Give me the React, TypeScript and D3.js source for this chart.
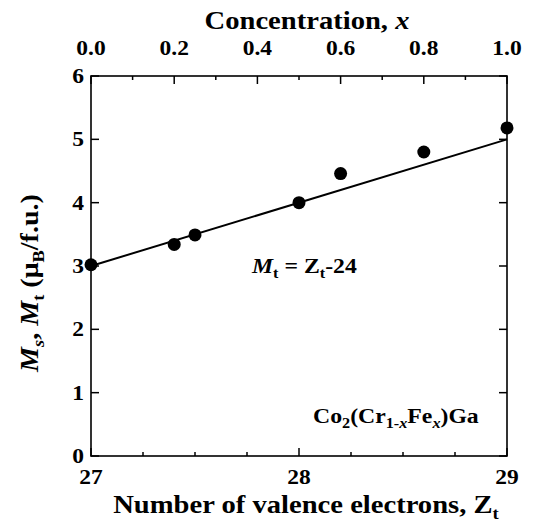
import React from "react";
import * as d3 from "d3";

const zt = [27, 27.4, 27.5, 28, 28.2, 28.6, 29];
const moment = [3.02, 3.34, 3.49, 4.0, 4.46, 4.8, 5.18];
const fitZ = [27, 29];
const bottomMajor = [27, 28, 29];
const bottomMinor = [27.25, 27.5, 27.75, 28.25, 28.5, 28.75];
const topMajor = [0, 0.2, 0.4, 0.6, 0.8, 1.0];
const topMinor = [0.1, 0.3, 0.5, 0.7, 0.9];
const yTicks = [0, 1, 2, 3, 4, 5, 6];

const W = 537, H = 523;
const L = 91, R = 507, T = 76, B = 456;
const ts: React.CSSProperties = { fontFamily: "Liberation Serif", fontWeight: "bold" };

function T2({ x, y, sx = 1.12, anchor = "start", size, children, rotate = 0 }: any) {
  return (
    <text
      className="ser"
      transform={`translate(${x},${y}) rotate(${rotate}) scale(${sx},1)`}
      fontSize={size}
      textAnchor={anchor}
      style={ts}
    >
      {children}
    </text>
  );
}

export default function App() {
  const x = d3.scaleLinear().domain([27, 29]).range([L, R]);
  const xc = d3.scaleLinear().domain([0, 1]).range([L, R]);
  const y = d3.scaleLinear().domain([0, 6]).range([B, T]);
  const line = d3.line<number>().x((d) => x(d)).y((d) => y(d - 24));
  const maj = 8, mn = 4;
  return (
    <div style={{ position: "absolute", left: 0, top: 0, width: W, height: H }}>
      <svg width={W} height={H} style={{ position: "absolute", left: 0, top: 0 }}>
        <style>{`.ser, .ser tspan { font-family: "Liberation Serif"; font-weight: bold; }`}</style>
        <rect x={0} y={0} width={W} height={H} fill="white" />
        <rect x={L} y={T} width={R - L} height={B - T} fill="none" stroke="black" strokeWidth={1.6} />
        {bottomMajor.map((v) => (
          <line key={"bM" + v} x1={x(v)} x2={x(v)} y1={B} y2={B - maj} stroke="black" strokeWidth={1.5} />
        ))}
        {bottomMinor.map((v) => (
          <line key={"bm" + v} x1={x(v)} x2={x(v)} y1={B} y2={B - mn} stroke="black" strokeWidth={1.5} />
        ))}
        {topMajor.map((v) => (
          <line key={"tM" + v} x1={xc(v)} x2={xc(v)} y1={T} y2={T + maj} stroke="black" strokeWidth={1.5} />
        ))}
        {topMinor.map((v) => (
          <line key={"tm" + v} x1={xc(v)} x2={xc(v)} y1={T} y2={T + mn} stroke="black" strokeWidth={1.5} />
        ))}
        {yTicks.map((v) => (
          <g key={"y" + v}>
            <line x1={L} x2={L + maj} y1={y(v)} y2={y(v)} stroke="black" strokeWidth={1.5} />
            <line x1={R} x2={R - maj} y1={y(v)} y2={y(v)} stroke="black" strokeWidth={1.5} />
            <T2 x={L - 7} y={y(v) + 7} size={21} anchor="end">{String(v)}</T2>
          </g>
        ))}
        {bottomMajor.map((v) => (
          <T2 key={"bl" + v} x={x(v)} y={484} size={21} anchor="middle">{String(v)}</T2>
        ))}
        {topMajor.map((v) => (
          <T2 key={"tl" + v} x={xc(v)} y={55} size={21} anchor="middle">{v.toFixed(1)}</T2>
        ))}
        <T2 x={307} y={29} size={26} sx={1.1} anchor="middle">
          Concentration, <tspan fontStyle="italic">x</tspan>
        </T2>
        <T2 x={306} y={513} size={26} sx={1.1} anchor="middle">
          Number of valence electrons, Z<tspan fontSize={17} dy={6}>t</tspan>
        </T2>
        <T2 x={38} y={283} size={26} sx={1.08} anchor="middle" rotate={-90}>
          <tspan fontStyle="italic">M</tspan><tspan fontSize={17} dy={6} fontStyle="italic">s</tspan>
          <tspan dy={-6}>,  </tspan><tspan fontStyle="italic">M</tspan><tspan fontSize={17} dy={6}>t</tspan>
          <tspan dy={-6}> (μ</tspan><tspan fontSize={17} dy={6}>B</tspan><tspan dy={-6}>/f.u.)</tspan>
        </T2>
        <path d={line(fitZ) || ""} fill="none" stroke="black" strokeWidth={2} />
        {zt.map((z, i) => (
          <circle key={"p" + i} cx={x(z)} cy={y(moment[i])} r={6.5} fill="black" />
        ))}
        <T2 x={252} y={273} size={22} sx={1.08}>
          <tspan fontStyle="italic">M</tspan><tspan fontSize={15} dy={5}>t</tspan>
          <tspan dy={-5}> = Z</tspan><tspan fontSize={15} dy={5}>t</tspan><tspan dy={-5}>-24</tspan>
        </T2>
        <T2 x={313} y={423} size={22} sx={1.08}>
          Co<tspan fontSize={15} dy={5}>2</tspan><tspan dy={-5}>(Cr</tspan>
          <tspan fontSize={15} dy={5}>1-</tspan><tspan fontSize={15} fontStyle="italic">x</tspan>
          <tspan dy={-5}>Fe</tspan><tspan fontSize={15} dy={5} fontStyle="italic">x</tspan>
          <tspan dy={-5}>)Ga</tspan>
        </T2>
      </svg>
    </div>
  );
}
